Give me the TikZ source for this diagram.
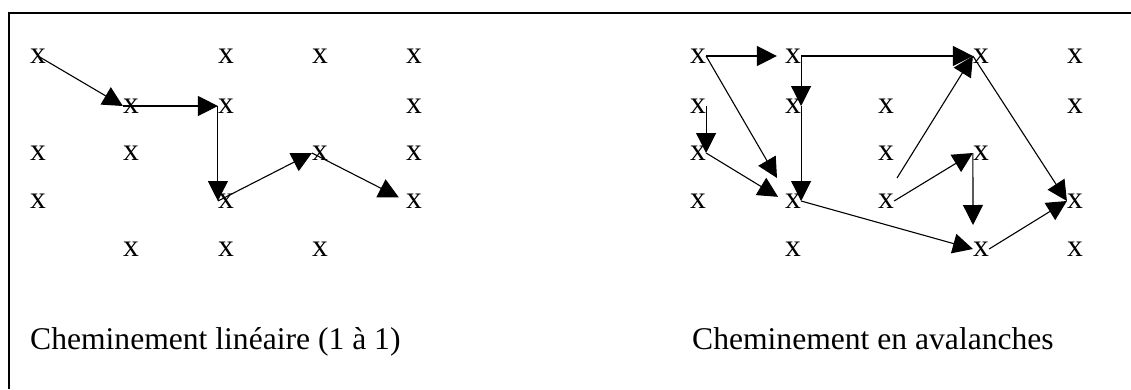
\documentclass[tikz,border=0pt]{standalone}
\usepackage{fontspec}
\setmainfont{Liberation Serif}
\usetikzlibrary{arrows.meta}

\begin{document}
\begin{tikzpicture}[
  x=1pt, y=-1pt,
  xmark/.style={inner sep=0pt, font=\fontsize{31.6}{38}\selectfont},
  arr/.style={-{Triangle[length=20pt, width=20pt]}, line width=1.1pt},
  caption/.style={anchor=base west, inner sep=0pt, font=\fontsize{31.6}{38}\selectfont}
]
\useasboundingbox (0,0) rectangle (1131,389);
\draw[line width=1.3pt] (9,389) -- (9,13) -- (1131,13);

% left grid
\node[xmark] (L11) at (38,56) {x};
\node[xmark] (L31) at (226,56) {x};
\node[xmark] (L41) at (320,56) {x};
\node[xmark] (L51) at (414,56) {x};
\node[xmark] (L22) at (131,106) {x};
\node[xmark] (L32) at (226,106) {x};
\node[xmark] (L52) at (414,106) {x};
\node[xmark] (L13) at (38,153) {x};
\node[xmark] (L23) at (131,153) {x};
\node[xmark] (L43) at (320,153) {x};
\node[xmark] (L53) at (414,153) {x};
\node[xmark] (L14) at (38,201) {x};
\node[xmark] (L34) at (226,201) {x};
\node[xmark] (L54) at (414,201) {x};
\node[xmark] (L25) at (131,249) {x};
\node[xmark] (L35) at (226,249) {x};
\node[xmark] (L45) at (320,249) {x};

% right grid
\node[xmark] (R11) at (698,56) {x};
\node[xmark] (R21) at (793,56) {x};
\node[xmark] (R41) at (981,56) {x};
\node[xmark] (R51) at (1075,56) {x};
\node[xmark] (R12) at (698,106) {x};
\node[xmark] (R22) at (793,106) {x};
\node[xmark] (R32) at (886,106) {x};
\node[xmark] (R52) at (1075,106) {x};
\node[xmark] (R13) at (698,153) {x};
\node[xmark] (R33) at (886,153) {x};
\node[xmark] (R43) at (981,153) {x};
\node[xmark] (R14) at (698,201) {x};
\node[xmark] (R24) at (793,201) {x};
\node[xmark] (R34) at (886,201) {x};
\node[xmark] (R54) at (1075,201) {x};
\node[xmark] (R25) at (793,249) {x};
\node[xmark] (R45) at (981,249) {x};
\node[xmark] (R55) at (1075,249) {x};

\coordinate (d1) at (777,178);
\coordinate (d2) at (897,178);
\coordinate (d3) at (973,225);

% linear path
\draw[arr] (L11.center) -- (L22.west);
\draw[arr] (L22.west) -- (L32.west);
\draw[arr] (L32.west) -- (L34.west);
\draw[arr] (L34.west) -- (L43.west);
\draw[arr, shorten >=8pt] (L43.west) -- (L54.west);

% avalanche
\draw[arr, shorten >=8pt] (R11.east) -- (R21.west);
\draw[arr] (R21.east) -- (R41.west);
\draw[arr] (R21.east) -- (R22.east);
\draw[arr] (R22.east) -- (R24.east);
\draw[arr] (R11.east) -- (d1);
\draw[arr] (R12.east) -- (R13.east);
\draw[arr, shorten >=8pt] (R13.east) -- (R24.west);
\draw[arr] (R24.east) -- (R45.west);
\draw[arr] (R34.east) -- (R43.west);
\draw[arr] (R43.west) -- (d3);
\draw[arr] (d2) -- (R41.west);
\draw[arr] (R41.west) -- (R54.west);
\draw[arr] (R45.east) -- (R54.west);

\node[caption] (capL) at (30,349) {Cheminement linéaire (1 à 1)};
\node[caption] (capR) at (692,349) {Cheminement en avalanches};
\end{tikzpicture}
\end{document}
